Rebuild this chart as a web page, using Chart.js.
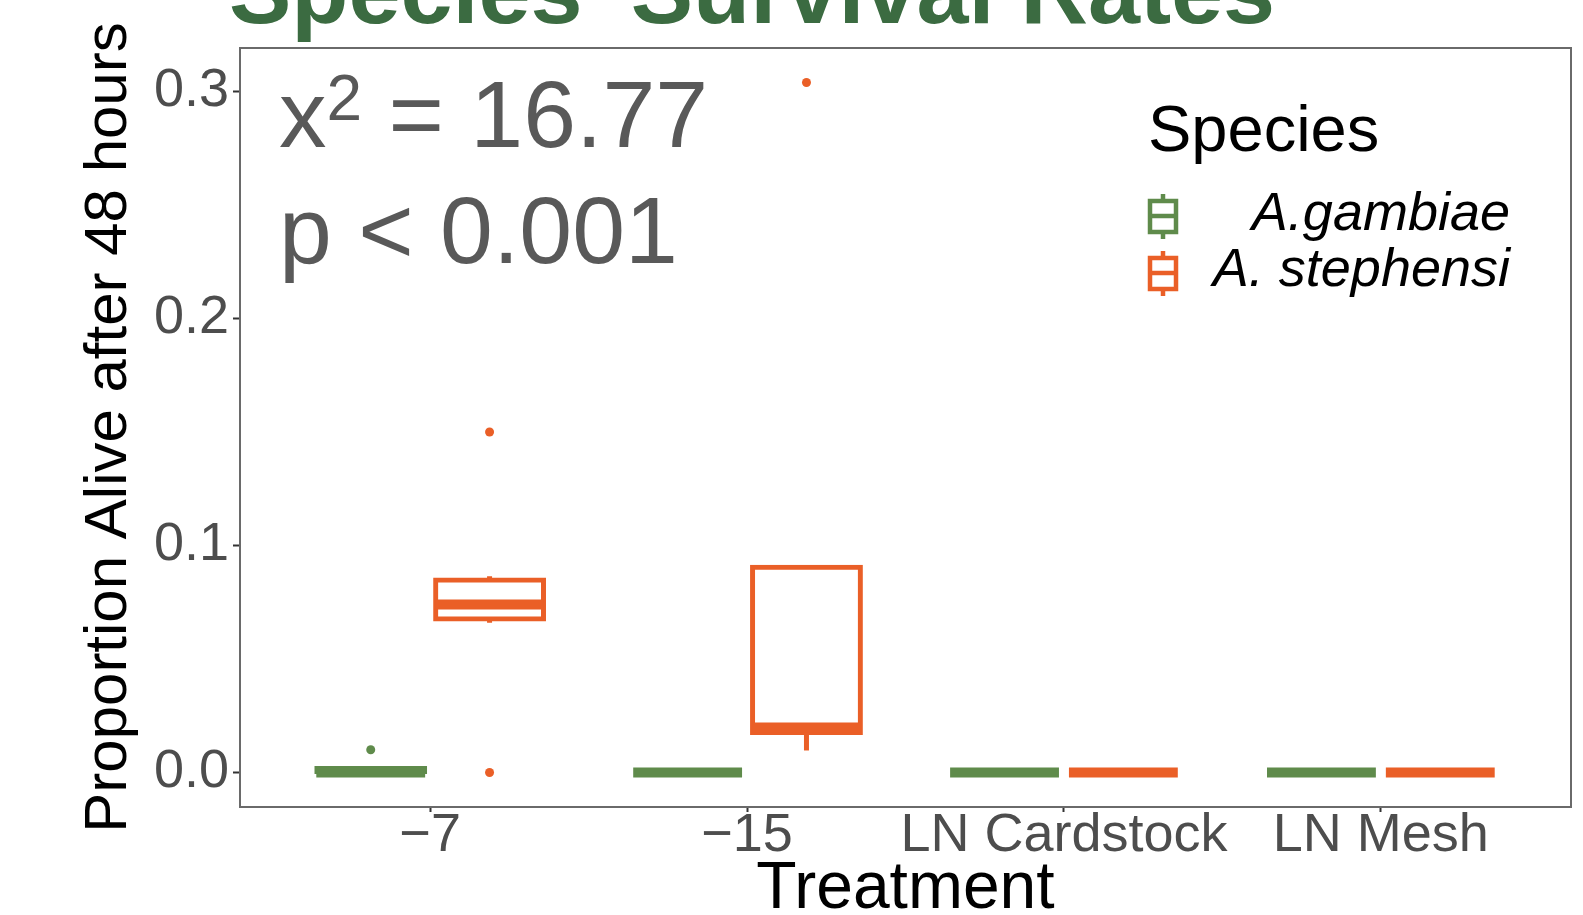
<!DOCTYPE html>
<html>
<head>
<meta charset="utf-8">
<script src="https://cdn.jsdelivr.net/npm/chart.js@4.4.1/dist/chart.umd.min.js"></script>
<style>
  html, body { margin: 0; padding: 0; background: #ffffff; overflow: hidden; }
  #wrap { position: relative; width: 1583px; height: 915px; }
  #chart { position: absolute; left: 0; top: 0; }
  #overlay { position: absolute; left: 0; top: 0; pointer-events: none; }
  #overlay text { font-family: "Liberation Sans", Arial, sans-serif; white-space: pre; }
</style>
</head>
<body>
<div id="wrap">
  <canvas id="chart" width="1583" height="915"></canvas>
  <svg id="overlay" width="1583" height="915" xmlns="http://www.w3.org/2000/svg">
    <text x="229" y="23" font-size="93.5" font-weight="bold" fill="#3b6b41">Species' Survival Rates</text>

    <text x="279" y="147" font-size="95" fill="#595959">x<tspan font-size="64" dy="-27">2</tspan><tspan dy="27"> = 16.77</tspan></text>
    <text x="279" y="263" font-size="95" fill="#595959">p &lt; 0.001</text>

    <text x="1148" y="151" font-size="65" fill="#000000">Species</text>
    <g id="legend-gambiae" stroke="#5f8b4b" stroke-width="4.5" fill="none">
      <line x1="1163" y1="194" x2="1163" y2="201"/>
      <rect x="1150" y="201" width="26" height="31"/>
      <line x1="1150" y1="216" x2="1176" y2="216"/>
      <line x1="1163" y1="232" x2="1163" y2="239"/>
    </g>
    <g id="legend-stephensi" stroke="#ea5f27" stroke-width="4.5" fill="none">
      <line x1="1163" y1="251" x2="1163" y2="258"/>
      <rect x="1150" y="258" width="26" height="31"/>
      <line x1="1150" y1="273" x2="1176" y2="273"/>
      <line x1="1163" y1="289" x2="1163" y2="296"/>
    </g>
    <text x="1510" y="230" font-size="54" font-style="italic" text-anchor="end" fill="#000000">A.gambiae</text>
    <text x="1510" y="286" font-size="54" font-style="italic" text-anchor="end" fill="#000000">A. stephensi</text>
  </svg>
</div>
<script>
// Treatments on the x axis
const treatments = ['\u22127', '\u221215', 'LN Cardstock', 'LN Mesh'];
const speciesNames = ['A.gambiae', 'A. stephensi'];
const speciesColors = ['#5f8b4b', '#ea5f27'];

// A. gambiae box statistics per treatment
const gambiaeLowWhisker  = [0, 0, 0, 0];
const gambiaeQ1          = [0, 0, 0, 0];
const gambiaeMedian      = [0, 0, 0, 0];
const gambiaeQ3          = [0.002, 0, 0, 0];
const gambiaeHighWhisker = [0.002, 0, 0, 0];
const gambiaeOutliers    = [[0.01], [], [], []];

// A. stephensi box statistics per treatment
const stephensiLowWhisker  = [0.066, 0.0097, 0, 0];
const stephensiQ1          = [0.0674, 0.0174, 0, 0];
const stephensiMedian      = [0.074, 0.0198, 0, 0];
const stephensiQ3          = [0.085, 0.0907, 0, 0];
const stephensiHighWhisker = [0.0865, 0.0907, 0, 0];
const stephensiOutliers    = [[0.15, 0], [0.304], [], []];

// Y axis tick values
const yTicks = [0, 0.1, 0.2, 0.3];

const series = [
  { name: speciesNames[0], color: speciesColors[0], lo: gambiaeLowWhisker, q1: gambiaeQ1,
    med: gambiaeMedian, q3: gambiaeQ3, hi: gambiaeHighWhisker, out: gambiaeOutliers },
  { name: speciesNames[1], color: speciesColors[1], lo: stephensiLowWhisker, q1: stephensiQ1,
    med: stephensiMedian, q3: stephensiQ3, hi: stephensiHighWhisker, out: stephensiOutliers }
];

// y range: data span plus 5% on each side
const allValues = series.flatMap(s => [...s.lo, ...s.hi, ...s.out.flat()]);
const dataMin = Math.min(...allValues), dataMax = Math.max(...allValues);
const pad = (dataMax - dataMin) * 0.05;

// x range: 0.6 category units of space outside the first and last category
const X_EXPAND = 0.6;

const BOX_LINE = 5;
const MEDIAN_LINE = 10;

// Whiskers under the boxes, medians and outlier points on top, panel frame last
const boxPlotParts = {
  id: 'boxPlotParts',
  beforeDatasetsDraw(chart) {
    const ctx = chart.ctx, y = chart.scales.y;
    series.forEach((s, di) => {
      chart.getDatasetMeta(di).data.forEach((el, i) => {
        ctx.save();
        ctx.strokeStyle = s.color;
        ctx.lineWidth = BOX_LINE;
        ctx.lineCap = 'butt';
        ctx.beginPath();
        if (s.hi[i] > s.q3[i]) {
          ctx.moveTo(el.x, y.getPixelForValue(s.q3[i]));
          ctx.lineTo(el.x, y.getPixelForValue(s.hi[i]));
        }
        if (s.lo[i] < s.q1[i]) {
          ctx.moveTo(el.x, y.getPixelForValue(s.q1[i]));
          ctx.lineTo(el.x, y.getPixelForValue(s.lo[i]));
        }
        ctx.stroke();
        ctx.restore();
      });
    });
  },
  afterDatasetsDraw(chart) {
    const ctx = chart.ctx, y = chart.scales.y;
    series.forEach((s, di) => {
      chart.getDatasetMeta(di).data.forEach((el, i) => {
        ctx.save();
        ctx.strokeStyle = s.color;
        ctx.fillStyle = s.color;
        ctx.lineWidth = MEDIAN_LINE;
        ctx.lineCap = 'butt';
        const ym = y.getPixelForValue(s.med[i]);
        ctx.beginPath();
        ctx.moveTo(el.x - el.width / 2, ym);
        ctx.lineTo(el.x + el.width / 2, ym);
        ctx.stroke();
        s.out[i].forEach(v => {
          ctx.beginPath();
          ctx.arc(el.x, y.getPixelForValue(v), 4.5, 0, Math.PI * 2);
          ctx.fill();
        });
        ctx.restore();
      });
    });
  },
  afterDraw(chart) {
    const a = chart.chartArea, ctx = chart.ctx;
    ctx.save();
    ctx.strokeStyle = '#6a6a6a';
    ctx.lineWidth = 2;
    ctx.strokeRect(a.left, a.top, a.right - a.left, a.bottom - a.top);
    ctx.restore();
  }
};

const tickFont = { family: '"Liberation Sans", Arial, sans-serif', size: 54 };

new Chart(document.getElementById('chart'), {
  type: 'bar',
  data: {
    labels: treatments,
    datasets: series.map(s => ({
      label: s.name,
      data: s.q1.map((v, i) => [v, s.q3[i]]),
      backgroundColor: 'rgba(255,255,255,0)',
      borderColor: s.color,
      borderWidth: 1,
      inflateAmount: 2,
      borderSkipped: false,
      categoryPercentage: 0.75,
      barPercentage: 0.916
    }))
  },
  options: {
    responsive: false,
    animation: false,
    events: [],
    layout: { padding: { left: 0, right: 12, top: 48, bottom: 0 } },
    plugins: { legend: { display: false }, tooltip: { enabled: false }, title: { display: false } },
    scales: {
      x: {
        type: 'category',
        offset: false,
        afterBuildTicks(scale) {
          scale._startValue = -X_EXPAND;
          scale._valueRange = treatments.length - 1 + 2 * X_EXPAND;
        },
        afterFit(scale) { scale.height = 108; },
        grid: { display: true, offset: false, drawOnChartArea: false, drawTicks: true,
                tickLength: 5, tickColor: '#333333', tickWidth: 2 },
        border: { display: false },
        ticks: { color: '#4d4d4d', font: Object.assign({}, tickFont, { lineHeight: 0.6 }),
                 padding: 8, maxRotation: 0, autoSkip: false },
        title: { display: true, text: 'Treatment', color: '#000000',
                 font: { family: '"Liberation Sans", Arial, sans-serif', size: 66, lineHeight: 0.9 },
                 padding: { top: 0, bottom: -4 } }
      },
      y: {
        type: 'linear',
        min: dataMin - pad,
        max: dataMax + pad,
        afterBuildTicks(scale) { scale.ticks = yTicks.map(v => ({ value: v })); },
        afterFit(scale) { scale.width = 240; },
        grid: { display: true, drawOnChartArea: false, drawTicks: true,
                tickLength: 7, tickColor: '#333333', tickWidth: 2 },
        border: { display: false },
        ticks: { color: '#4d4d4d', font: tickFont, padding: 4,
                 callback: v => Number(v).toFixed(1) },
        title: { display: true, text: 'Proportion Alive after 48 hours', color: '#000000',
                 font: { family: '"Liberation Sans", Arial, sans-serif', size: 60, lineHeight: 1.2 },
                 padding: { top: 73, bottom: 0 } }
      }
    }
  },
  plugins: [boxPlotParts]
});
</script>
</body>
</html>
